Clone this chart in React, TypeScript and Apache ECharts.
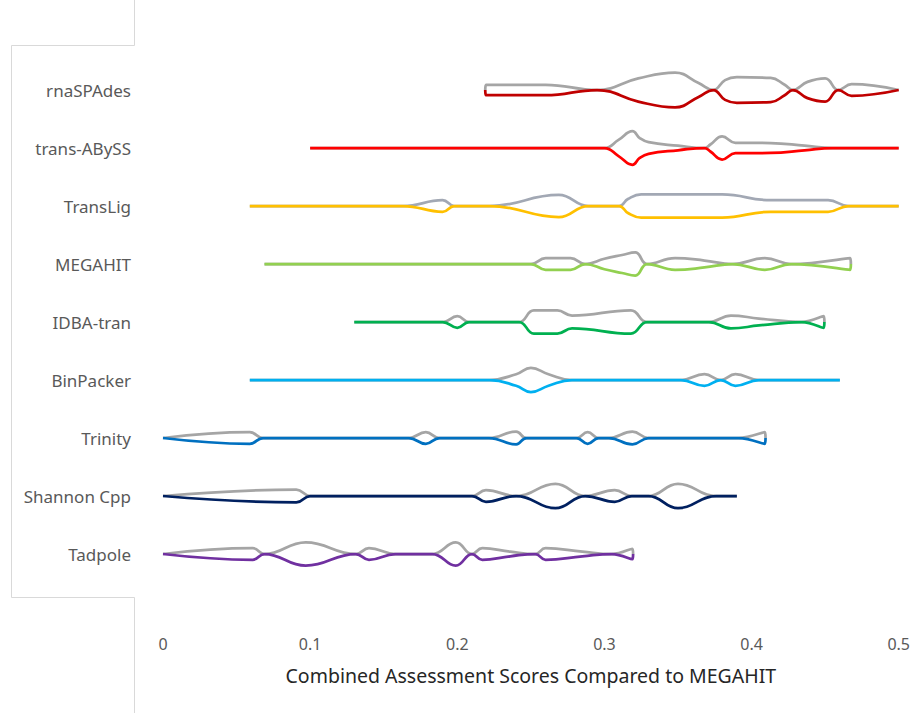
import React, { useEffect, useRef } from "react";
import * as echarts from "echarts";

// Tools, top to bottom
const tools = ["rnaSPAdes", "trans-ABySS", "TransLig", "MEGAHIT", "IDBA-tran", "BinPacker", "Trinity", "Shannon Cpp", "Tadpole"];
const colors = ["#C00000", "#FF0000", "#FFC000", "#92D050", "#00B050", "#00B0F0", "#0070C0", "#002060", "#7030A0"];
const grays = ["#A5A5A5", "#A5A5A5", "#A2A8B4", "#A5A5A5", "#A5A5A5", "#A5A5A5", "#A5A5A5", "#A5A5A5", "#A5A5A5"];

// Scores (x) and half-widths (density, in row units) for each tool
const rnaSPAdesX = [0.219, 0.2195, 0.26, 0.295, 0.323, 0.348, 0.364, 0.374, 0.382, 0.39, 0.413, 0.4225, 0.428, 0.438, 0.45, 0.459, 0.468, 0.5];
const rnaSPAdesW = [0, 0.09, 0.09, 0, 0.2, 0.3, 0.12, 0, 0.17, 0.22, 0.21, 0.09, 0, 0.14, 0.2, 0, 0.1, 0];

const transAbyssX = [0.1, 0.3, 0.3096, 0.319, 0.324, 0.33, 0.35, 0.368, 0.372, 0.38, 0.389, 0.413, 0.436, 0.455, 0.5];
const transAbyssW = [0, 0, 0.14, 0.29, 0.17, 0.1, 0.04, 0, 0.06, 0.2, 0.09, 0.085, 0.04, 0, 0];

const transLigX = [0.059, 0.163, 0.19, 0.198, 0.222, 0.269, 0.289, 0.31, 0.316, 0.325, 0.38, 0.413, 0.452, 0.466, 0.5];
const transLigW = [0, 0, 0.1, 0, 0, 0.19, 0, 0, 0.12, 0.2, 0.2, 0.1, 0.1, 0, 0];

const megahitX = [0.069, 0.25, 0.26, 0.277, 0.287, 0.3, 0.312, 0.321, 0.329, 0.348, 0.368, 0.387, 0.409, 0.427, 0.467, 0.4675];
const megahitW = [0, 0, 0.1, 0.1, 0, 0.09, 0.155, 0.2, 0, 0.1, 0.06, 0, 0.1, 0, 0.1, 0];

const idbaX = [0.13, 0.19, 0.2, 0.208, 0.242, 0.252, 0.268, 0.278, 0.318, 0.329, 0.371, 0.386, 0.405, 0.434, 0.449, 0.4495];
const idbaW = [0, 0, 0.1, 0, 0, 0.2, 0.2, 0.11, 0.2, 0, 0, 0.11, 0.06, 0, 0.1, 0];

const binPackerX = [0.059, 0.222, 0.24, 0.25, 0.262, 0.278, 0.352, 0.368, 0.379, 0.389, 0.405, 0.46];
const binPackerW = [0, 0, 0.1, 0.21, 0.1, 0, 0, 0.1, 0, 0.1, 0, 0];

const trinityX = [0, 0.059, 0.068, 0.167, 0.1786, 0.188, 0.2215, 0.24, 0.247, 0.281, 0.2886, 0.296, 0.303, 0.319, 0.33, 0.391, 0.409, 0.4095];
const trinityW = [0, 0.1, 0, 0, 0.1, 0, 0, 0.11, 0, 0, 0.1, 0, 0, 0.11, 0, 0, 0.1, 0];

const shannonX = [0, 0.0906, 0.1, 0.21, 0.2195, 0.24, 0.2667, 0.287, 0.307, 0.3186, 0.33, 0.35, 0.376, 0.39];
const shannonW = [0, 0.11, 0, 0, 0.1, 0, 0.21, 0, 0.1, 0, 0, 0.21, 0, 0];

const tadpoleX = [0, 0.061, 0.069, 0.097, 0.131, 0.14, 0.158, 0.183, 0.199, 0.21, 0.217, 0.236, 0.253, 0.26, 0.285, 0.305, 0.319, 0.3195];
const tadpoleW = [0, 0.1, 0, 0.2, 0, 0.1, 0, 0, 0.2, 0, 0.1, 0.04, 0, 0.1, 0.04, 0, 0.09, 0];

const scoresX = [rnaSPAdesX, transAbyssX, transLigX, megahitX, idbaX, binPackerX, trinityX, shannonX, tadpoleX];
const widthsW = [rnaSPAdesW, transAbyssW, transLigW, megahitW, idbaW, binPackerW, trinityW, shannonW, tadpoleW];

const xTicks = [0, 0.1, 0.2, 0.3, 0.4, 0.5];
const xTitle = "Combined Assessment Scores Compared to MEGAHIT";

export default function App() {
  const ref = useRef<HTMLDivElement>(null);
  useEffect(() => {
    if (!ref.current) return;
    const chart = echarts.init(ref.current, undefined, { renderer: "svg" });
    const n = tools.length;
    const series: any[] = [];
    tools.forEach((name, i) => {
      const row = n - i;
      const xs = scoresX[i];
      const ws = widthsW[i];
      series.push({
        name: name + " (upper)",
        type: "line",
        smooth: 0.45,
        symbol: "none",
        lineStyle: { color: grays[i], width: 2.75 },
        data: xs.map((x, j) => [x, row + ws[j]]),
        z: 2,
      });
      series.push({
        name: name,
        type: "line",
        smooth: 0.45,
        symbol: "none",
        lineStyle: { color: colors[i], width: 2.75 },
        data: xs.map((x, j) => [x, row - ws[j]]),
        z: 3,
      });
    });
    const lineStyle = { stroke: "#D9D9D9", lineWidth: 1 };
    chart.setOption({
      animation: false,
      backgroundColor: "#FFFFFF",
      grid: { left: 163, right: 12, top: 32, bottom: 101, containLabel: false },
      xAxis: {
        type: "value",
        min: 0,
        max: 0.5,
        interval: 0.1,
        axisLine: { show: false },
        axisTick: { show: false },
        splitLine: { show: false },
        axisLabel: {
          margin: 24,
          fontSize: 16,
          color: "#595959",
          fontFamily: "Noto Sans",
          formatter: (v: number) => {
            const t = xTicks.find((k) => Math.abs(k - v) < 1e-6);
            return t === undefined ? "" : String(t);
          },
        },
        name: xTitle,
        nameLocation: "middle",
        nameGap: 53,
        nameTextStyle: { fontSize: 19.5, color: "#262626", fontFamily: "Noto Sans" },
      },
      yAxis: {
        type: "value",
        min: 0,
        max: n + 1,
        interval: 1,
        axisLine: { show: false },
        axisTick: { show: false },
        splitLine: { show: false },
        axisLabel: {
          margin: 32,
          fontSize: 17,
          color: "#595959",
          fontFamily: "Noto Sans",
          formatter: (v: number) => {
            const idx = n - Math.round(v);
            return idx >= 0 && idx < n && Math.round(v) >= 1 ? tools[idx] : "";
          },
        },
      },
      graphic: [
        { type: "line", shape: { x1: 134.5, y1: 0, x2: 134.5, y2: 45.5 }, style: lineStyle, silent: true },
        { type: "line", shape: { x1: 11.5, y1: 45.5, x2: 134.5, y2: 45.5 }, style: lineStyle, silent: true },
        { type: "line", shape: { x1: 11.5, y1: 45.5, x2: 11.5, y2: 597.5 }, style: lineStyle, silent: true },
        { type: "line", shape: { x1: 11.5, y1: 597.5, x2: 134.5, y2: 597.5 }, style: lineStyle, silent: true },
        { type: "line", shape: { x1: 134.5, y1: 597.5, x2: 134.5, y2: 713 }, style: lineStyle, silent: true },
      ],
      series,
    });
    return () => chart.dispose();
  }, []);
  return <div ref={ref} style={{ position: "fixed", left: 0, top: 0, width: 913, height: 713 }} />;
}
